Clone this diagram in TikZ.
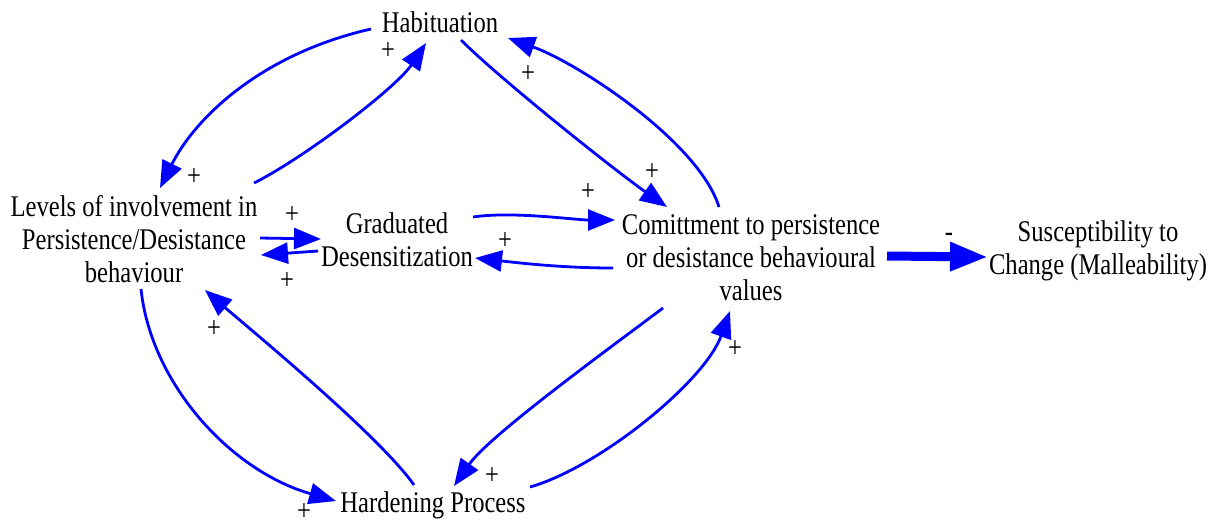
\documentclass[tikz,border=0pt]{standalone}
\usepackage{fontspec}
\setmainfont{Liberation Serif}[FakeStretch=0.82]
\usetikzlibrary{arrows.meta,calc}
\definecolor{linkblue}{RGB}{0,0,255}

\begin{document}
\begin{tikzpicture}[x=0.5pt,y=-0.5pt,
  var/.style={align=center, inner sep=0pt, font=\fontsize{15}{16.5}\selectfont},
  pol/.style={inner sep=0pt, font=\fontsize{15}{15}\selectfont},
  link/.style={draw=linkblue, line width=1.4pt, -{Triangle[length=13.5pt,width=10.5pt]}},
  biglink/.style={draw=linkblue, line width=4.5pt, -{Triangle[length=19pt,width=13.5pt]}}]

\useasboundingbox (0,0) rectangle (1224,526);

% variables
\node[var] (hab)  at (440,22)  {Habituation};
\node[var] (lev)  at (134,239) {Levels of involvement in\\Persistence/Desistance\\behaviour};
\node[var] (grad) at (397,240) {Graduated\\Desensitization};
\node[var] (com)  at (751,258) {Comittment to persistence\\or desistance behavioural\\values};
\node[var] (sus)  at (1098,251) {Susceptibility to\\Change (Malleability)};
\node[var] (hard) at (433,505) {Hardening Process};

% causal links
\draw[link] ($(hab)+(-69,7)$) .. controls +(-110,25) and +(35,-70) .. ($(lev)+(26,-51)$);
\draw[link] ($(lev)+(120,-56)$) .. controls +(50,-25) and +(-30,45) .. ($(hab)+(-14,21)$);
\draw[link] ($(hab)+(21,18)$) .. controls +(40,40) and +(-50,-35) .. ($(com)+(-84,-51)$);
\draw[link] ($(com)+(-32,-51)$) .. controls +(-20,-65) and +(70,25) .. ($(hab)+(68,16)$);
\draw[link] ($(grad)+(76,-23)$) .. controls +(40,-6) and +(-40,0) .. ($(com)+(-136,-38)$);
\draw[link] ($(com)+(-138,10)$) .. controls +(-50,0) and +(45,5) .. ($(grad)+(78,18)$);
\draw[link] ($(lev)+(126,-1)$) -- ($(grad)+(-76,-1)$);
\draw[link] ($(grad)+(-79,11)$) -- ($(lev)+(127,16)$);
\draw[biglink] ($(com)+(136,-2)$) -- ($(sus)+(-110,6)$);
\draw[link] ($(lev)+(7,50)$) .. controls +(10,95) and +(-105,-30) .. ($(hard)+(-97,-4)$);
\draw[link] ($(hard)+(-19,-20)$) .. controls +(-35,-50) and +(40,35) .. ($(lev)+(71,51)$);
\draw[link] ($(com)+(-88,50)$) .. controls +(-60,45) and +(35,-50) .. ($(hard)+(21,-19)$);
\draw[link] ($(hard)+(97,-18)$) .. controls +(70,-20) and +(-25,70) .. ($(com)+(-21,53)$);

% link polarities
\node[pol] (p1)  at (194,177) {+};
\node[pol] (p2)  at (388,51)  {+};
\node[pol] (p3)  at (528,74)  {+};
\node[pol] (p4)  at (652,172) {+};
\node[pol] (p5)  at (588,192) {+};
\node[pol] (p6)  at (505,241) {+};
\node[pol] (p7)  at (292,215) {+};
\node[pol] (p8)  at (287,281) {+};
\node[pol] (p9)  at (949,237) {-};
\node[pol] (p10) at (304,512) {+};
\node[pol] (p11) at (214,329) {+};
\node[pol] (p12) at (492,476) {+};
\node[pol] (p13) at (735,349) {+};
\end{tikzpicture}
\end{document}
